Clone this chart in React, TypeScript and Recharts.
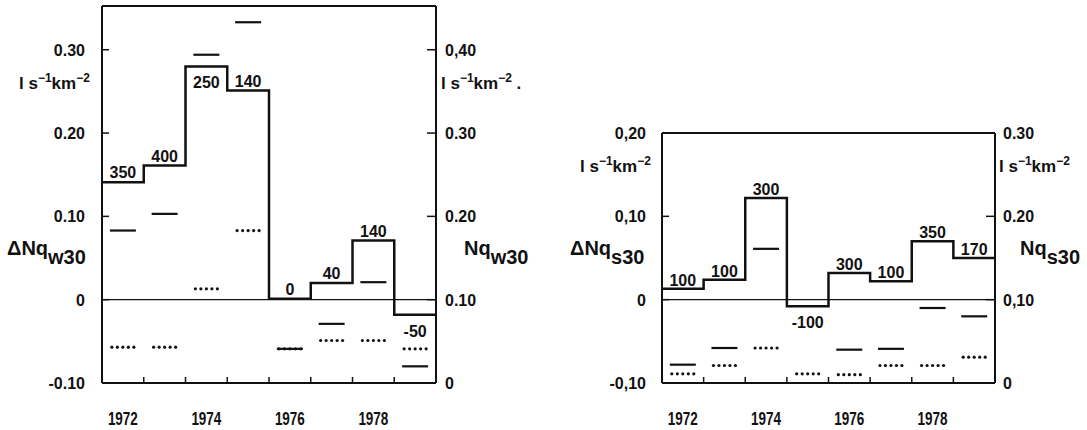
import React from 'react'
import { ComposedChart, Line, Scatter, XAxis, YAxis, ReferenceLine } from 'recharts'

const years = [1972, 1973, 1974, 1975, 1976, 1977, 1978, 1979]
const labelledYears = [1972, 1974, 1976, 1978]

// left panel: ΔNq w30 steps (left axis), printed numbers, solid / dotted dashes (Nq, right axis)
const winterDelta = [0.141, 0.161, 0.28, 0.251, 0.001, 0.02, 0.071, -0.018]
const winterLabels = ['350', '400', '250', '140', '0', '40', '140', '-50']
const winterSolid = [0.183, 0.203, 0.394, 0.433, 0.041, 0.071, 0.121, 0.02]
const winterDotted = [0.043, 0.043, 0.113, 0.183, 0.041, 0.051, 0.051, 0.041]
const winterLeftTicks = [-0.1, 0, 0.1, 0.2, 0.3]
const winterLeftText = ['-0.10', '0', '0.10', '0.20', '0.30']
const winterRightTicks = [0, 0.1, 0.2, 0.3, 0.4]
const winterRightText = ['0', '0.10', '0.20', '0.30', '0,40']

// right panel: ΔNq s30
const summerDelta = [0.013, 0.024, 0.122, -0.008, 0.032, 0.022, 0.07, 0.05]
const summerLabels = ['100', '100', '300', '-100', '300', '100', '350', '170']
const summerSolid = [0.022, 0.042, 0.161, null, 0.04, 0.041, 0.09, 0.08]
const summerDotted = [0.011, 0.021, 0.042, 0.011, 0.01, 0.021, 0.021, 0.031]
const summerLeftTicks = [-0.1, 0, 0.1, 0.2]
const summerLeftText = ['-0,10', '0', '0,10', '0,20']
const summerRightTicks = [0, 0.1, 0.2, 0.3]
const summerRightText = ['0', '0,10', '0.20', '0.30']

const FONT = "'Liberation Sans', Arial, sans-serif"
const INK = '#111'

const findIdx = (list: number[], v: number) => list.findIndex((t) => Math.abs(t - v) < 1e-9)

function Panel(props: any) {
  const {
    delta, labels, solid, dotted, below, leftTicks, leftText, rightTicks, rightText,
    leftDomain, rightDomain, width, margin, leftGap, rightGap, labelUp,
  } = props
  const first = years[0] - 0.5
  const last = years[years.length - 1] + 0.5
  const edges = [...years.map((y) => y - 0.5), last]
  const stepData = edges.map((x, i) => ({ x, v: delta[Math.min(i, delta.length - 1)] }))
  const labelData = years.map((x, i) => ({ x, v: delta[i], text: labels[i] }))
  const solidData = years.map((x, i) => ({ x, v: solid[i] })).filter((d) => d.v != null)
  const dottedData = years.map((x, i) => ({ x, v: dotted[i] }))
  const xTicks = [...edges, ...labelledYears]

  const xTick = (p: any) => {
    const v = p.payload.value
    if (labelledYears.includes(v)) {
      return (
        <text
          x={p.x - 15}
          y={p.y + 42}
          textLength={30}
          lengthAdjust="spacingAndGlyphs"
          fontSize={19}
          fontWeight="bold"
          fontFamily={FONT}
          fill={INK}
        >
          {v}
        </text>
      )
    }
    if (v > first && v < last) {
      return <line x1={p.x} x2={p.x} y1={p.y} y2={p.y - 6} stroke={INK} strokeWidth={1.5} />
    }
    return <g />
  }

  const leftTick = (p: any) => (
    <g>
      <line x1={p.x} x2={p.x + 7} y1={p.y} y2={p.y} stroke={INK} strokeWidth={1.5} />
      <text x={p.x - leftGap} y={p.y + 6} textAnchor="end" fontSize={16} fontWeight="bold" fontFamily={FONT} fill={INK}>
        {leftText[findIdx(leftTicks, p.payload.value)]}
      </text>
    </g>
  )

  const rightTick = (p: any) => (
    <g>
      <line x1={p.x - 9} x2={p.x} y1={p.y} y2={p.y} stroke={INK} strokeWidth={1.5} />
      <text x={p.x + rightGap} y={p.y + 6} textAnchor="start" fontSize={16} fontWeight="bold" fontFamily={FONT} fill={INK}>
        {rightText[findIdx(rightTicks, p.payload.value)]}
      </text>
    </g>
  )

  const solidShape = (p: any) => (
    <line x1={p.cx - 13} x2={p.cx + 13} y1={p.cy} y2={p.cy} stroke={INK} strokeWidth={2.2} />
  )
  const dottedShape = (p: any) => (
    <g>
      {[-2, -1, 0, 1, 2].map((k) => (
        <circle key={k} cx={p.cx + k * 5.5} cy={p.cy} r={1.6} fill={INK} />
      ))}
    </g>
  )
  const labelShape = (p: any) => {
    const down = below.includes(p.payload.x)
    return (
      <text
        x={p.cx}
        y={down ? p.cy + 22 : p.cy - labelUp}
        textAnchor="middle"
        fontSize={16}
        fontWeight="bold"
        fontFamily={FONT}
        fill={INK}
      >
        {p.payload.text}
      </text>
    )
  }

  return (
    <ComposedChart width={width} height={430} margin={margin}>
      <XAxis
        dataKey="x"
        type="number"
        domain={[first, last]}
        ticks={xTicks}
        interval={0}
        tick={xTick}
        tickLine={false}
        tickSize={0}
        tickMargin={0}
        height={40}
        axisLine={{ stroke: INK, strokeWidth: 2 }}
      />
      <YAxis
        yAxisId="left"
        type="number"
        domain={leftDomain}
        ticks={leftTicks}
        interval={0}
        tick={leftTick}
        tickLine={false}
        tickSize={0}
        tickMargin={0}
        width={80}
        axisLine={{ stroke: INK, strokeWidth: 2 }}
      />
      <YAxis
        yAxisId="right"
        orientation="right"
        type="number"
        domain={rightDomain}
        ticks={rightTicks}
        interval={0}
        tick={rightTick}
        tickLine={false}
        tickSize={0}
        tickMargin={0}
        width={80}
        axisLine={{ stroke: INK, strokeWidth: 2 }}
      />
      <ReferenceLine yAxisId="left" y={leftDomain[1]} stroke={INK} strokeWidth={2} />
      <ReferenceLine yAxisId="left" y={0} stroke={INK} strokeWidth={1.2} />
      <Line
        yAxisId="left"
        data={stepData}
        dataKey="v"
        type="stepAfter"
        stroke={INK}
        strokeWidth={2.5}
        dot={false}
        isAnimationActive={false}
      />
      <Scatter yAxisId="right" data={solidData} dataKey="v" shape={solidShape} isAnimationActive={false} />
      <Scatter yAxisId="right" data={dottedData} dataKey="v" shape={dottedShape} isAnimationActive={false} />
      <Scatter yAxisId="left" data={labelData} dataKey="v" shape={labelShape} isAnimationActive={false} />
    </ComposedChart>
  )
}

const Unit = ({ x, y, tail = '' }: { x: number; y: number; tail?: string }) => (
  <text x={x} y={y} fontSize={17} fontWeight="bold" fontFamily={FONT} fill={INK}>
    l s<tspan dy={-7} fontSize={12}>−1</tspan>
    <tspan dy={7}>km</tspan>
    <tspan dy={-7} fontSize={12}>−2</tspan>
    <tspan dy={7}>{tail}</tspan>
  </text>
)

const Qty = ({ x, y, name, sub }: { x: number; y: number; name: string; sub: string }) => (
  <text x={x} y={y} fontSize={20} fontWeight="bold" fontFamily={FONT} fill={INK}>
    {name}
    <tspan dy={9}>{sub}</tspan>
  </text>
)

export default function App() {
  return (
    <div style={{ position: 'absolute', left: 0, top: 0, width: 1087, height: 430, background: '#fff' }}>
      <div style={{ position: 'absolute', left: 0, top: 0 }}>
        <Panel
          delta={winterDelta}
          labels={winterLabels}
          solid={winterSolid}
          dotted={winterDotted}
          below={[1974, 1979]}
          leftTicks={winterLeftTicks}
          leftText={winterLeftText}
          rightTicks={winterRightTicks}
          rightText={winterRightText}
          leftDomain={[-0.1, 0.3525]}
          rightDomain={[0, 0.4525]}
          width={540}
          margin={{ top: 6, left: 22, right: 24, bottom: 7 }}
          leftGap={17}
          rightGap={9}
          labelUp={4}
        />
      </div>
      <div style={{ position: 'absolute', left: 540, top: 0 }}>
        <Panel
          delta={summerDelta}
          labels={summerLabels}
          solid={summerSolid}
          dotted={summerDotted}
          below={[1975]}
          leftTicks={summerLeftTicks}
          leftText={summerLeftText}
          rightTicks={summerRightTicks}
          rightText={summerRightText}
          leftDomain={[-0.1, 0.2]}
          rightDomain={[0, 0.3]}
          width={547}
          margin={{ top: 133, left: 42, right: 12, bottom: 7 }}
          leftGap={16}
          rightGap={8}
          labelUp={3}
        />
      </div>
      <svg width={1087} height={430} style={{ position: 'absolute', left: 0, top: 0, pointerEvents: 'none' }}>
        <Unit x={19} y={89} />
        <Qty x={7} y={255} name="ΔNq" sub="w30" />
        <Unit x={441} y={89} tail=" ." />
        <Qty x={464} y={255} name="Nq" sub="w30" />
        <Unit x={580} y={172} />
        <Qty x={570} y={255} name="ΔNq" sub="s30" />
        <Unit x={999} y={172} />
        <Qty x={1020} y={255} name="Nq" sub="s30" />
      </svg>
    </div>
  )
}
